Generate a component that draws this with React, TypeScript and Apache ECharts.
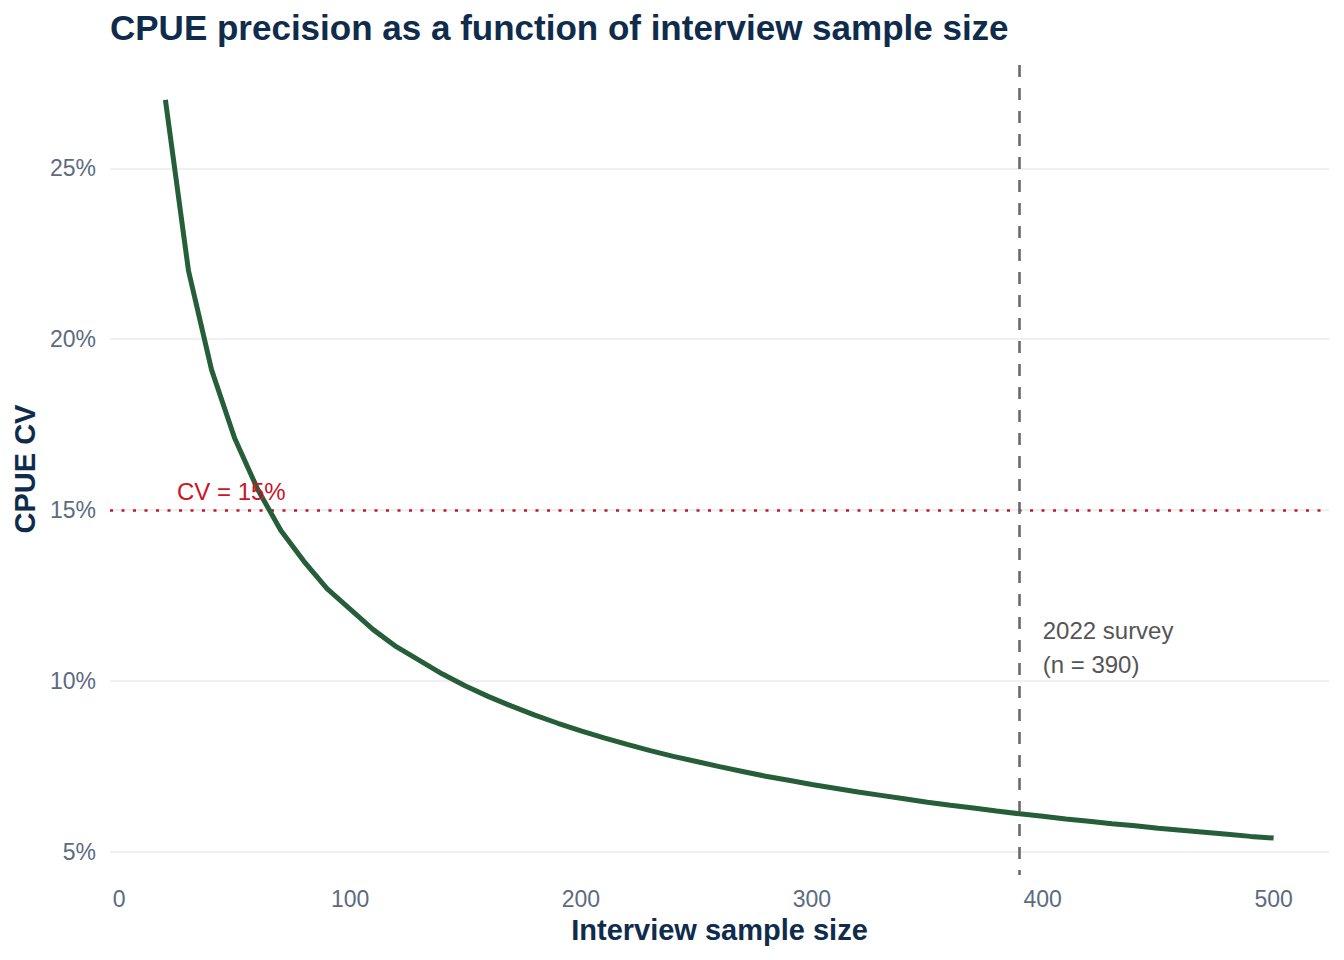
import React, { useEffect, useRef } from "react";
import * as echarts from "echarts";

const sampleSizes = [20, 30, 40, 50, 60, 70, 80, 90, 100, 110, 120, 130, 140, 150, 160, 170, 180, 190, 200, 210, 220, 230, 240, 250, 260, 270, 280, 290, 300, 310, 320, 330, 340, 350, 360, 370, 380, 390, 400, 410, 420, 430, 440, 450, 460, 470, 480, 490, 500];
const cvPercent = [27.0, 22.0, 19.1, 17.1, 15.6, 14.4, 13.5, 12.7, 12.1, 11.5, 11.0, 10.6, 10.2, 9.85, 9.54, 9.26, 9.0, 8.76, 8.54, 8.33, 8.14, 7.96, 7.79, 7.64, 7.49, 7.35, 7.21, 7.09, 6.97, 6.86, 6.75, 6.65, 6.55, 6.45, 6.36, 6.28, 6.19, 6.11, 6.04, 5.96, 5.89, 5.82, 5.76, 5.69, 5.63, 5.57, 5.51, 5.45, 5.4];
const yTicks = [5, 10, 15, 20, 25];
const xTicks = [0, 100, 200, 300, 400, 500];
const targetCV = 15;
const surveyN = 390;
const targetLabel = "CV = 15%";
const surveyLabel = "2022 survey\n(n = 390)";

const FONT = "'Liberation Sans', Arial, Helvetica, sans-serif";

export default function App() {
  const ref = useRef<HTMLDivElement>(null);
  useEffect(() => {
    if (!ref.current) return;
    const chart = echarts.init(ref.current, null, { renderer: "svg" });
    chart.setOption({
      animation: false,
      backgroundColor: "#ffffff",
      textStyle: { fontFamily: FONT },
      title: {
        text: "CPUE precision as a function of interview sample size",
        left: 110,
        top: 10,
        padding: 0,
        textStyle: { fontFamily: FONT, fontSize: 35, fontWeight: "bold", color: "#0f2c4c" },
      },
      grid: { left: 110, right: 15, top: 63, bottom: 85, containLabel: false },
      xAxis: {
        type: "value",
        min: -4,
        max: 524,
        name: "Interview sample size",
        nameLocation: "middle",
        nameGap: 40,
        nameTextStyle: { fontFamily: FONT, fontSize: 29, fontWeight: "bold", color: "#0f2c4c" },
        axisLine: { show: false },
        axisTick: { show: false, customValues: xTicks },
        splitLine: { show: false },
        axisLabel: {
          customValues: xTicks,
          fontFamily: FONT,
          fontSize: 23,
          color: "#5b6b80",
          margin: 12,
        },
      },
      yAxis: {
        type: "value",
        min: 4.32,
        max: 28.08,
        name: "CPUE CV",
        nameLocation: "middle",
        nameGap: 66,
        nameRotate: 90,
        nameTextStyle: { fontFamily: FONT, fontSize: 29, fontWeight: "bold", color: "#0f2c4c" },
        axisLine: { show: false },
        axisTick: { show: false, customValues: yTicks },
        splitLine: { show: true, lineStyle: { color: "#e8ebef", width: 1.5 } },
        axisLabel: {
          customValues: yTicks,
          formatter: (v: number) => `${Math.round(v)}%`,
          fontFamily: FONT,
          fontSize: 23,
          color: "#5b6b80",
          margin: 14,
        },
      },
      series: [
        {
          type: "line",
          data: sampleSizes.map((n, i) => [n, cvPercent[i]]),
          showSymbol: false,
          symbol: "none",
          lineStyle: { color: "#275e3a", width: 5 },
          z: 3,
          markLine: {
            silent: true,
            symbol: ["none", "none"],
            label: { show: false },
            data: [
              { yAxis: targetCV, lineStyle: { color: "#cc1426", type: [3, 8.5], width: 2.5 } },
              { xAxis: surveyN, lineStyle: { color: "#6a6a6a", type: [12, 11], dashOffset: 7, width: 2.6 } },
            ],
            z: 2,
          },
          markPoint: {
            silent: true,
            symbol: "circle",
            symbolSize: 0,
            data: [
              {
                coord: [25, 15.55],
                label: {
                  show: true,
                  formatter: targetLabel,
                  position: "inside",
                  align: "left",
                  verticalAlign: "middle",
                  fontFamily: FONT,
                  fontSize: 24,
                  color: "#cc1426",
                },
              },
              {
                coord: [400, 10.97],
                label: {
                  show: true,
                  formatter: surveyLabel,
                  position: "inside",
                  align: "left",
                  verticalAlign: "middle",
                  lineHeight: 34,
                  fontFamily: FONT,
                  fontSize: 24,
                  color: "#555555",
                },
              },
            ],
          },
        },
      ],
    });
    return () => chart.dispose();
  }, []);
  return (
    <div
      ref={ref}
      style={{ position: "fixed", left: 0, top: 0, width: 1344, height: 960 }}
    />
  );
}
